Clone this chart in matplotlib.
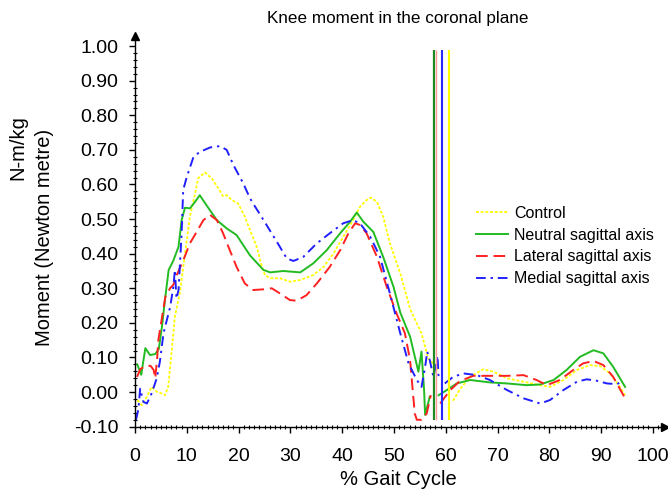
import numpy as np
import matplotlib
matplotlib.use("Agg")
import matplotlib.pyplot as plt
from matplotlib.ticker import MultipleLocator, FormatStrFormatter

plt.rcParams["font.family"] = ["Liberation Sans", "DejaVu Sans"]

nan = np.nan

# Control (yellow, dotted)
control_x = [0.45, 1.3, 2.3, 3.2, 4.2, 5.15, 5.8, 6.4, 7.1, 7.7, 8.7, 9.65, 10.6, 11.6, 12.2,
             13.5, 14.8, 16.1, 17.0, 17.7, 18.7, 19.9, 21.2, 22.2, 23.5, 24.5, 25.1, 26.1,
             28.0, 29.9, 31.9, 34.4, 36.4, 38.3, 40.2, 42.1, 43.4, 44.7, 45.5, 46.7, 47.9,
             49.2, 51.2, 53.1, 55.3, 56.6, 57.9, 58.4, nan, 61.4, 62.7, 64.7, 67.2, 69.2,
             71.8, 75.0, 78.2, 80.1, 82.7, 85.3, 87.8, 89.8, 91.7, 93.6, 94.6]
control_y = [-0.023, -0.038, -0.013, 0.015, 0.001, -0.004, -0.009, 0.015, 0.121, 0.218, 0.29,
             0.40, 0.507, 0.574, 0.618, 0.635, 0.618, 0.589, 0.566, 0.569, 0.555, 0.545, 0.507,
             0.468, 0.42, 0.362, 0.338, 0.329, 0.329, 0.319, 0.324, 0.338, 0.362, 0.40, 0.449,
             0.497, 0.535, 0.555, 0.562, 0.55, 0.507, 0.43, 0.343, 0.24, 0.17, 0.097, 0.078,
             0.064, nan, -0.025, 0.008, 0.044, 0.066, 0.059, 0.04, 0.03, 0.02, 0.015, 0.035,
             0.064, 0.078, 0.075, 0.054, 0.015, -0.009]

# Neutral sagittal axis (green, solid)
neutral_x = [0.45, 1.2, 2.0, 2.9, 3.9, 4.6, 5.2, 5.85, 6.5, 7.4, 8.4, 9.0, 9.65, 10.6, 11.6,
             12.5, 13.8, 15.8, 17.7, 19.6, 22.2, 24.8, 26.1, 28.6, 31.9, 34.4, 37.0, 39.6,
             41.5, 42.8, 44.1, 46.0, 47.9, 49.9, 51.2, 53.1, 54.7, 55.3, 55.8, 56.0, 56.9,
             nan, 58.6, 60.2, 62.1, 64.7, 68.5, 71.8, 75.6, 78.2, 80.8, 83.3, 85.9, 88.5,
             90.4, 92.3, 94.6]
neutral_y = [0.08, 0.05, 0.127, 0.107, 0.11, 0.125, 0.189, 0.275, 0.353, 0.38, 0.42, 0.497,
             0.533, 0.531, 0.55, 0.569, 0.54, 0.497, 0.473, 0.454, 0.395, 0.353, 0.346, 0.35,
             0.346, 0.372, 0.41, 0.459, 0.492, 0.519, 0.492, 0.463, 0.391, 0.304, 0.23, 0.16,
             0.059, 0.117, 0.006, -0.066, -0.013, nan, -0.009, 0.006, 0.025, 0.035, 0.028,
             0.025, 0.02, 0.022, 0.035, 0.064, 0.102, 0.121, 0.112, 0.073, 0.015]

# Lateral sagittal axis (red, dashed)
lateral_x = [0.4, 1.0, 1.9, 3.0, 3.6, 3.9, 4.25, 4.5, 5.85, 6.76, 7.4, 8.05, 9.3, 10.6, 11.9,
             13.2, 14.5, 15.8, 17.0, 18.3, 19.6, 21.2, 22.8, 24.8, 26.4, 28.0, 29.9, 31.2,
             33.1, 35.1, 37.6, 39.6, 41.2, 42.5, 43.4, 44.7, 46.7, 48.6, 50.5, 52.1, 53.1,
             54.0, 54.4, 55.3, 56.3, 57.1, nan, 58.9, 60.8, 62.7, 65.3, 68.5, 71.8, 75.0,
             77.5, 79.5, 82.0, 84.6, 86.5, 88.5, 90.4, 92.3, 94.6]
lateral_y = [0.044, 0.066, 0.075, 0.076, 0.064, 0.04, 0.092, 0.15, 0.275, 0.30, 0.31, 0.338,
             0.38, 0.43, 0.463, 0.497, 0.512, 0.497, 0.459, 0.41, 0.362, 0.314, 0.295, 0.297,
             0.30, 0.285, 0.266, 0.264, 0.28, 0.314, 0.362, 0.41, 0.459, 0.488, 0.483, 0.459,
             0.391, 0.304, 0.227, 0.17, 0.092, -0.062, -0.08, -0.08, -0.062, -0.009, nan,
             -0.033, 0.005, 0.032, 0.047, 0.047, 0.047, 0.049, 0.035, 0.02, 0.035, 0.064,
             0.083, 0.09, 0.078, 0.044, -0.018]

# Medial sagittal axis (blue, dash-dot)
medial_x = [0.2, 0.65, 1.0, 1.6, 2.3, 3.2, 4.2, 4.8, 5.5, 6.8, 7.4, 7.7, 8.0, 8.4, 9.0, 9.3,
            10.0, 11.3, 12.5, 14.5, 16.4, 17.7, 19.0, 20.9, 22.2, 22.8, 24.4, 27.4, 29.3,
            30.6, 32.5, 35.1, 37.6, 40.2, 42.1, 43.4, 45.4, 47.3, 49.2, 51.2, 52.8, 54.4,
            55.3, 56.0, 56.4, 56.9, 57.6, 58.1, 58.4, 58.6, nan, 59.8, 61.4, 63.4, 66.0,
            68.5, 71.8, 75.0, 78.2, 80.1, 82.7, 85.3, 87.2, 89.1, 91.1, 93.0, 94.3]
medial_y = [-0.08, -0.05, 0.01, -0.028, -0.033, -0.004, 0.04, 0.088, 0.17, 0.247, 0.304,
            0.353, 0.27, 0.295, 0.459, 0.584, 0.622, 0.68, 0.694, 0.707, 0.711, 0.70, 0.656,
            0.603, 0.56, 0.545, 0.507, 0.434, 0.386, 0.379, 0.391, 0.43, 0.459, 0.488, 0.497,
            0.488, 0.449, 0.391, 0.285, 0.17, 0.083, 0.035, 0.015, 0.073, 0.117, 0.092, 0.044,
            0.08, 0.105, 0.04, nan, 0.025, 0.044, 0.054, 0.049, 0.035, 0.006, -0.018, -0.033,
            -0.023, 0.006, 0.03, 0.037, 0.033, 0.025, 0.023, 0.033]

# toe-off markers (vertical lines)
toeoff_x = [57.7, 58.05, 59.3, 60.6]
toeoff_colors = ["#1f8a1f", "#ff9a9a", "#2a2aff", "#ffff00"]
toeoff_widths = [1.6, 1.0, 1.5, 1.5]

fig = plt.figure(figsize=(6.68, 4.94), dpi=100)
W, H = 668, 494
ax = fig.add_axes([135 / W, (494 - 426.7) / H, 530 / W, 391 / H])

ax.plot(control_x, control_y, color="#ffff00", lw=1.3, ls=(0, (1.6, 1.0)), label="Control")
ax.plot(neutral_x, neutral_y, color="#22bb22", lw=1.4, ls="-", label="Neutral sagittal axis")
ax.plot(lateral_x, lateral_y, color="#ff2020", lw=1.4, ls=(0, (6, 3)), label="Lateral sagittal axis")
ax.plot(medial_x, medial_y, color="#2020ff", lw=1.4, ls=(0, (5, 2.5, 1.2, 2.5)),
        label="Medial sagittal axis")

for x, c, w in zip(toeoff_x, toeoff_colors, toeoff_widths):
    ax.vlines(x, -0.08, 0.99, colors=c, lw=w)

ax.set_xlim(0, 102.3)
ax.set_ylim(-0.1, 1.03)
ax.xaxis.set_major_locator(MultipleLocator(10))
ax.xaxis.set_minor_locator(MultipleLocator(1))
ax.yaxis.set_major_locator(MultipleLocator(0.1))
ax.yaxis.set_minor_locator(MultipleLocator(0.02))
ax.yaxis.set_major_formatter(FormatStrFormatter("%.2f"))
ax.set_xticks(np.arange(0, 101, 10))
ax.set_yticks(np.arange(-0.1, 1.001, 0.1))

ax.tick_params(which="major", direction="out", length=4, width=1, labelsize=14, colors="black")
ax.tick_params(axis="x", which="major", pad=11)
ax.tick_params(axis="y", which="major", pad=8)
ax.tick_params(which="minor", direction="inout", length=3, width=0.8)

for side in ("top", "right"):
    ax.spines[side].set_visible(False)
for side in ("left", "bottom"):
    ax.spines[side].set_linewidth(1.0)

# axis arrows
ax.plot(1, 0, ">k", ms=6, transform=ax.transAxes, clip_on=False)
ax.plot(0, 1, "^k", ms=6, transform=ax.transAxes, clip_on=False)

fig.text(398 / W, 1 - 18 / H, "Knee moment in the coronal plane", ha="center", va="center",
         fontsize=12.3)
fig.text(398 / W, 1 - 479 / H, "% Gait Cycle", ha="center", va="center", fontsize=14.5)
fig.text(18 / W, 1 - 148 / H, "N-m/kg", ha="center", va="center", rotation=90, fontsize=14.5)
fig.text(45 / W, 1 - 237 / H, "Moment (Newton metre)", ha="center", va="center", rotation=90,
         fontsize=14.5)

ax.legend(loc="upper left", bbox_to_anchor=(476 / W, 1 - 206 / H), bbox_transform=fig.transFigure,
          frameon=False, fontsize=11.5, handlelength=2.0, handletextpad=0.4, labelspacing=0.42,
          borderpad=0, borderaxespad=0)

fig.savefig("out.png", dpi=100)
